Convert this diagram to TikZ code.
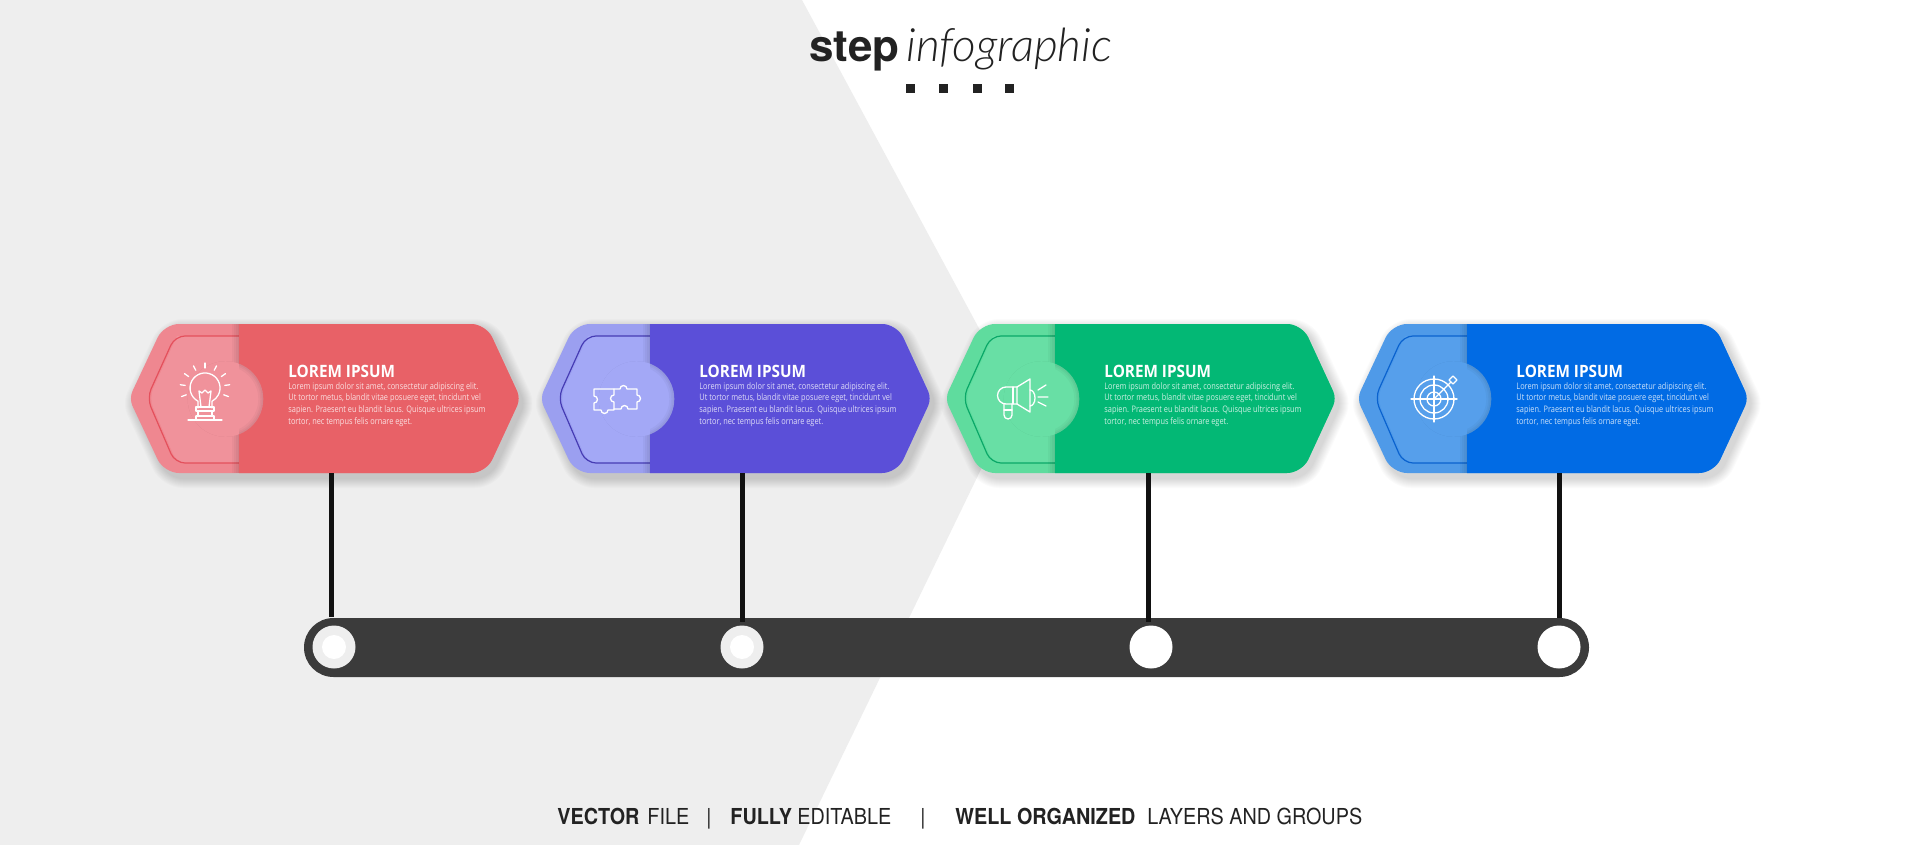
\documentclass[tikz,border=0pt]{standalone}
\usepackage{fontspec}
\setmainfont{TeX Gyre Heros}[FakeStretch=0.9]
\newfontfamily\cardfont{Open Sans}[FakeStretch=0.9]
\newfontfamily\bodyfont{Open Sans}[FakeStretch=0.82]
\newfontfamily\headbold{TeX Gyre Heros Bold}
\newfontfamily\headlight{Lato Light Italic}
\usetikzlibrary{calc}

\definecolor{backgray}{HTML}{EEEEEE}
\definecolor{barcol}{HTML}{3B3B3B}
\definecolor{stemcol}{HTML}{111111}
\definecolor{inkcol}{HTML}{222222}
\definecolor{redD}{HTML}{E86167}
\definecolor{redO}{HTML}{EF8790}
\definecolor{redI}{HTML}{F0929B}
\definecolor{redL}{HTML}{E4505C}
\definecolor{purD}{HTML}{5B4FD8}
\definecolor{purO}{HTML}{9B9FF0}
\definecolor{purI}{HTML}{A3A8F6}
\definecolor{purL}{HTML}{463CB4}
\definecolor{greD}{HTML}{03B875}
\definecolor{greO}{HTML}{5FDC9E}
\definecolor{greI}{HTML}{68DFA5}
\definecolor{greL}{HTML}{0AA868}
\definecolor{bluD}{HTML}{016BE4}
\definecolor{bluO}{HTML}{4F9AE8}
\definecolor{bluI}{HTML}{569FEB}
\definecolor{bluL}{HTML}{0A62CF}

\newcommand{\hexpath}{(190,324) [rounded corners=7.5pt] -- (355,324) [rounded corners=4pt] -- (389.5,398.5) [rounded corners=7.5pt] -- (355,473) -- (33,473) [rounded corners=4pt] -- (-2,398.5) [rounded corners=7.5pt] -- (33,324) [sharp corners] -- cycle}

\tikzset{
  cardtitle/.style={anchor=base west, inner sep=0pt, text=white, font=\cardfont\bfseries\fontsize{8.5}{9}\selectfont},
  cardbody/.style={anchor=north west, inner sep=0pt, align=left, text=white, text opacity=.8, font=\bodyfont\fontsize{4.5}{5.8}\selectfont},
  stemline/.style={draw=stemcol, line width=2.5pt},
  hubdot/.style={circle, inner sep=0pt, minimum size=21.5pt},
  iconline/.style={draw=white, line width=.65pt, line join=round, line cap=round},
  footer/.style={anchor=base west, inner sep=0pt, text=inkcol, font=\fontsize{11}{13}\selectfont},
  footbold/.style={footer, font=\bfseries\fontsize{11}{13}\selectfont},
  dotsq/.style={fill=inkcol, inner sep=0pt, minimum size=4.5pt},
}

\begin{document}
\begin{tikzpicture}[x=.5pt,y=-.5pt]
 \useasboundingbox (0,0) rectangle (1920,845);
 \fill[white] (0,0) rectangle (1920,845);
 \fill[backgray] (0,0) -- (802,0) -- (1016,397) -- (799,845) -- (0,845) -- cycle;

 %heading
 \node[anchor=base west, inner sep=0pt, text=inkcol, font=\headbold\fontsize{22}{26}\selectfont] (headA) at (809,62) {step};
 \node[anchor=base west, inner sep=0pt, text=inkcol, font=\headlight\fontsize{23}{28}\selectfont] (headB) at (906,62) {infographic};
 \foreach \i/\x in {1/910,2/943,3/977,4/1009}
   \node[dotsq] (sq\i) at (\x,89) {};

 %cards
 \foreach \n/\lx/\cA/\cB/\cC/\cL in {1/131/redD/redO/redI/redL, 2/542/purD/purO/purI/purL, 3/947/greD/greO/greI/greL, 4/1359/bluD/bluO/bluI/bluL} {
  \begin{scope}[shift={(\lx,0)}]
   % shadow
   \foreach \w in {1,...,10} {
     \begin{scope}[transparency group, opacity=.016]
       \filldraw[black, line width=\w pt, line join=round, xshift=2pt, yshift=-2.5pt] \hexpath;
     \end{scope}
   }
   \fill[\cB] \hexpath;
   \begin{scope}
     \clip \hexpath;
     \fill[\cC] (108,336) -- (46,336) [rounded corners=5pt] -- (18,398) -- (46,463) [sharp corners] -- (108,463) -- cycle;
     \draw[\cL, line width=.6pt, rounded corners=5pt] (108,336) -- (44,336) -- (16,398) -- (44,463) -- (108,463);
     \foreach \w in {7,5,3,1.5}
       \draw[black, opacity=.03, line width=\w pt] (108,324) -- (108,473);
     \fill[\cA] (108,300) rectangle (400,500);
   \end{scope}
   \fill[\cC] (94.5,399) circle[radius=37.8];
   \begin{scope}
     \clip (94.5,399) circle[radius=37.8];
     \foreach \w in {5,3,1.5}
       \draw[black, opacity=.03, line width=\w pt] (94.5,399) circle[radius=37.8];
     \fill[\cC] (0,300) rectangle (108,500);
   \end{scope}
   \node[cardtitle] (title\n) at (157,377) {LOREM IPSUM};
   \node[cardbody] (body\n) at (157,382) {Lorem ipsum dolor sit amet, consectetur adipiscing elit.\\
     Ut tortor metus, blandit vitae posuere eget, tincidunt vel\\
     sapien. Praesent eu blandit lacus. Quisque ultrices ipsum\\
     tortor, nec tempus felis ornare eget.};
  \end{scope}
 }

 %icons
 \begin{scope}[shift={(205,388)}, iconline]
   \draw (-7,20) -- (-7,13.2) arc[start angle=118, end angle=422, radius=15] -- (7,20);
   \draw (-4,19) -- (-6,3) -- (-3,5) -- (0,2) -- (3,5) -- (6,3) -- (4,19);
   \draw (-9,19) rectangle (9,23);
   \draw (-7,23) rectangle (7,28);
   \draw (-9,28) -- (-9,32) (9,28) -- (9,32) (-9,28) -- (9,28);
   \draw (-17,32) -- (17,32);
   \foreach \a in {160,187.5,...,380}
     \draw (\a:20) -- (\a:25);
 \end{scope}

 \begin{scope}[shift={(617,399)}, iconline]
   \draw (-23,-10) -- (-3,-10) -- (-3,-4) arc[start angle=270, end angle=90, radius=3.5] -- (-3,11) -- (-9,11) arc[start angle=0, end angle=180, radius=3.5] -- (-23,11) -- (-23,4) arc[start angle=90, end angle=-90, radius=3.5] -- cycle;
   \draw (-3,-10) -- (3,-10) arc[start angle=180, end angle=360, radius=3.5] -- (20,-10) -- (20,-4) arc[start angle=270, end angle=450, radius=3.5] -- (20,10) -- (11,10) arc[start angle=0, end angle=-180, radius=3.5] -- (-3,10);
 \end{scope}

 \begin{scope}[shift={(1022,399)}, iconline]
   \draw (-5,-12) -- (8,-20) -- (8,13) -- (-5,5) -- cycle;
   \draw (-5,-12) -- (-16,-12) arc[start angle=270, end angle=90, radius=8.5] -- (-5,5);
   \draw (-9,-12) -- (-9,5);
   \draw (8,-9) arc[start angle=-90, end angle=90, x radius=5, y radius=8];
   \draw (-18,5) -- (-18,16) arc[start angle=180, end angle=0, radius=4] -- (-10,5);
   \draw (-18,11) -- (-10,11);
   \draw (16,-9) -- (24,-14) (16,-2) -- (26,-2) (16,3) -- (24,7);
 \end{scope}

 \begin{scope}[shift={(1434,399)}, iconline]
   \foreach \r in {20,14,7}
     \draw (0,0) circle[radius=\r];
   \draw (-23,0) -- (23,0) (0,-23) -- (0,23);
   \draw (0,0) -- (17,-17);
   \draw (0,0) -- (6,-.5) (0,0) -- (.5,-6);
   \draw (15,-19) -- (19,-23) -- (23,-19) -- (19,-15) -- cycle;
 \end{scope}

 %bar and hubs
 \fill[barcol, rounded corners=14.75pt] (304,618) rectangle (1589,677);
 \foreach \n/\hx/\rim in {1/334/backgray, 2/742/backgray, 3/1151/white, 4/1559/white} {
   \node[hubdot, fill=\rim] (hub\n) at (\hx,647) {};
   \node[hubdot, fill=white, minimum size=12pt] (hubc\n) at (\hx,647) {};
 }

 % stems
 \foreach \n/\sx/\sy in {1/331/617, 2/742/622, 3/1148/622, 4/1559/618} {
   \coordinate (top\n) at (\sx,473);
   \coordinate (foot\n) at (\sx,\sy);
   \draw[stemline] (top\n) -- (foot\n);
 }

 %footer
 \node[footbold] (footA) at (557,824) {VECTOR};
 \node[footer] (footB) at (647,824) {FILE};
 \node[footer] (sepA) at (706,824) {|};
 \node[footbold] (footC) at (730,824) {FULLY};
 \node[footer] (footD) at (797,824) {EDITABLE};
 \node[footer] (sepB) at (920,824) {|};
 \node[footbold] (footE) at (955,824) {WELL ORGANIZED};
 \node[footer] (footF) at (1147,824) {LAYERS AND GROUPS};
\end{tikzpicture}
\end{document}
